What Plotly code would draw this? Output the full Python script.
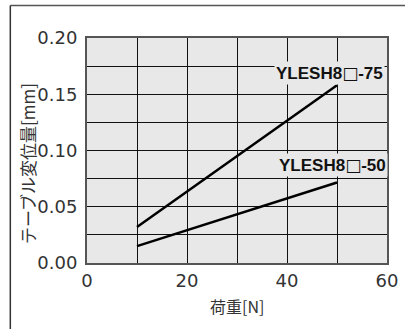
import plotly.graph_objects as go

load_n = [10, 50]
defl_75 = [0.032, 0.158]
defl_50 = [0.015, 0.0715]
series_names = ["YLESH8□-75", "YLESH8□-50"]
label_y = [0.169, 0.087]
label_x = [37.3, 38.0]
x_ticks = [0, 20, 40, 60]
y_ticks = [0.00, 0.05, 0.10, 0.15, 0.20]
y_tick_text = ["0.00", "0.05", "0.10", "0.15", "0.20"]

fig = go.Figure()
for ys in (defl_75, defl_50):
    fig.add_trace(go.Scatter(x=load_n, y=ys, mode="lines",
                             line=dict(color="black", width=2.5),
                             showlegend=False, hoverinfo="skip"))

for name, lx, ly in zip(series_names, label_x, label_y):
    pre, post = name.split("□")
    txt = ("<b>%s</b><span style=\"font-family:'DejaVu Sans';font-weight:normal\">□</span><b>%s</b>"
           % (pre, post))
    fig.add_annotation(x=lx, y=ly, xref="x", yref="y", text=txt,
                       showarrow=False, xanchor="left", yanchor="middle",
                       font=dict(family="Liberation Sans, Arial, sans-serif", size=17, color="#111"),
                       bgcolor="#e8e8e8", borderpad=1)

# axis titles
fig.add_annotation(x=0.5, y=-0.193, xref="paper", yref="paper", text="荷重[N]",
                   showarrow=False, xanchor="center", yanchor="middle",
                   font=dict(family="Noto Sans CJK JP", size=16, color="#333"))
fig.add_annotation(x=-0.2, y=0.44, xref="paper", yref="paper", text="テーブル変位量[mm]",
                   showarrow=False, xanchor="center", yanchor="middle", textangle=-90,
                   font=dict(family="Noto Sans CJK JP", size=17, color="#333"))

# outer frame (top and left edges)
fig.add_shape(type="line", xref="paper", yref="paper", x0=-0.2556, x1=1.06, y0=1.1444, y1=1.1444,
              line=dict(color="#555", width=1.5))
fig.add_shape(type="line", xref="paper", yref="paper", x0=-0.2556, x1=-0.2556, y0=1.1444, y1=-0.35,
              line=dict(color="#333", width=1.5))

fig.update_xaxes(range=[0, 60], tickvals=x_ticks, showgrid=True, gridcolor="#111", gridwidth=1,
                 minor=dict(dtick=10, showgrid=True, gridcolor="#111", gridwidth=1),
                 showline=True, mirror=True, linecolor="#555", linewidth=2, zeroline=False,
                 tickfont=dict(family="DejaVu Sans", size=18, color="#333"), ticks="", ticklabelstandoff=0)
fig.update_yaxes(range=[0, 0.2], tickvals=y_ticks, ticktext=y_tick_text, showgrid=True,
                 gridcolor="#111", gridwidth=1,
                 minor=dict(dtick=0.025, showgrid=True, gridcolor="#111", gridwidth=1),
                 showline=True, mirror=True, linecolor="#555", linewidth=2, zeroline=False,
                 tickfont=dict(family="DejaVu Sans", size=18, color="#333"), ticks="", ticklabelstandoff=4)

fig.update_layout(width=410, height=329, margin=dict(l=87, r=12, t=38, b=66),
                  plot_bgcolor="#e8e8e8", paper_bgcolor="white")
fig.write_html("out.html", post_script="document.body.style.margin='0px';",
               config={"displayModeBar": False})
